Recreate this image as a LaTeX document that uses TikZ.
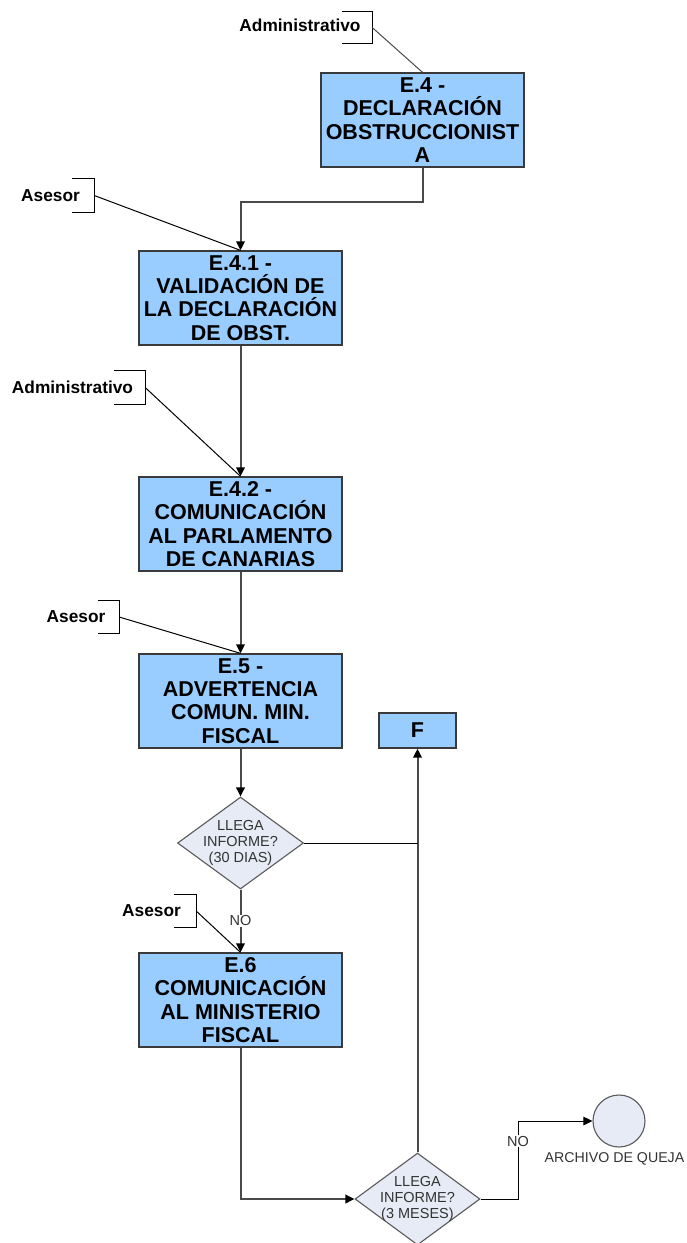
\documentclass[tikz,border=0pt]{standalone}
\usepackage{fontspec}
\setmainfont{Liberation Sans}
\usetikzlibrary{shapes.geometric,arrows.meta}
\definecolor{boxblue}{HTML}{99CCFF}
\definecolor{boxline}{HTML}{3A3A3A}
\definecolor{decfill}{HTML}{E6EBF5}
\definecolor{decline}{HTML}{5A5A5A}
\definecolor{wire}{HTML}{4A4A4A}
\definecolor{softtext}{HTML}{333333}
\begin{document}
\begin{tikzpicture}[x=1pt,y=-1pt,
  task/.style={draw=boxline,fill=boxblue,line width=1.3pt,minimum width=203pt,
    minimum height=94pt,inner sep=0pt,align=center,
    font=\fontsize{21.5}{23.3}\selectfont\bfseries},
  endbox/.style={task,minimum width=77pt,minimum height=35pt},
  decision/.style={draw=decline,fill=decfill,line width=1.1pt,diamond,
    minimum width=126pt,minimum height=92pt,inner sep=0pt},
  dtext/.style={align=center,text=softtext,inner sep=0pt,
    font=\fontsize{14.5}{16.3}\selectfont},
  terminal/.style={draw=decline,fill=decfill,line width=1.1pt,circle,
    minimum size=52pt,inner sep=0pt},
  role/.style={inner sep=0pt,font=\fontsize{17.3}{20}\selectfont\bfseries},
  bracket/.style={inner sep=0pt,minimum height=32pt},
  conn/.style={draw=wire,line width=2pt},
  tip/.style={-{Triangle[length=9pt,width=8.5pt,color=black]}},
  note/.style={draw=black,line width=1pt},
  flag/.style={fill=white,inner sep=1pt,text=softtext,font=\fontsize{14.5}{16}\selectfont}
]
\useasboundingbox (0,0) rectangle (686,1243);
\clip (0,0) rectangle (686,1243);
\fill[white] (0,0) rectangle (686,1243);

% process steps
\node[task] (E4)  at (422.5,120) {E.4 -\\DECLARACIÓN\\OBSTRUCCIONIST\\A};
\node[task] (E41) at (240.5,298) {E.4.1 -\\VALIDACIÓN DE\\LA DECLARACIÓN\\DE OBST.};
\node[task] (E42) at (240.5,524) {E.4.2 -\\COMUNICACIÓN\\AL PARLAMENTO\\DE CANARIAS};
\node[task] (E5)  at (240.5,701) {E.5 -\\ADVERTENCIA\\COMUN. MIN.\\FISCAL};
\node[task] (E6)  at (240.5,1000) {E.6\\COMUNICACIÓN\\AL MINISTERIO\\FISCAL};
\node[endbox] (F) at (417.5,730.5) {F};

% decisions
\node[decision] (D1) at (240.5,843) {};
\node[dtext] (D1t) at (D1.center) {LLEGA\\INFORME?\\(30 DIAS)};
\node[decision,minimum width=125pt] (D2) at (417.5,1199) {};
\node[dtext] (D2t) at (D2.center) {LLEGA\\INFORME?\\(3 MESES)};

% end of file
\node[terminal] (C) at (619,1121) {};
\node[dtext,anchor=north,font=\fontsize{14.2}{16}\selectfont] (Ct) at (614.5,1152) {ARCHIVO DE QUEJA};

% roles with their brackets
\node[role] (r1) at (300,25) {Administrativo};
\node[bracket,minimum width=30pt,minimum height=31pt] (b1) at (357,27.5) {};
\node[role] (r2) at (50.5,196) {Asesor};
\node[bracket,minimum width=22pt,minimum height=33pt] (b2) at (83,195.5) {};
\node[role] (r3) at (72.5,387) {Administrativo};
\node[bracket,minimum width=31pt,minimum height=33pt] (b3) at (129.5,387.5) {};
\node[role] (r4) at (76,617) {Asesor};
\node[bracket,minimum width=21pt,minimum height=32pt] (b4) at (108.5,617) {};
\node[role] (r5) at (151.5,911) {Asesor};
\node[bracket,minimum width=22pt,minimum height=32pt] (b5) at (185,911) {};

\foreach \b in {b1,b2,b3,b4,b5}
  \draw[note] (\b.north west) -- (\b.north east) -- (\b.south east) -- (\b.south west);

% junction points
\coordinate (j1) at (0,202);
\coordinate (j3) at (518,0);

% main flow
\draw[conn,tip] (E4.south) -- (E4.south |- j1) -- (E41.north |- j1) -- (E41.north);
\draw[conn,tip] (E41.south) -- (E42.north);
\draw[conn,tip] (E42.south) -- (E5.north);
\draw[conn,tip] (E5.south) -- (D1.north);
\draw[conn,tip] (D1.south) -- node[flag] (no1) {NO} (E6.north);
\draw[conn,tip] (E6.south) |- (D2.west);
\draw[conn,tip] (D2.north) -- (F.south);
\draw[note] (D1.east) -- (D1.east -| F.south);
\draw[note,tip] (D2.east) -- (D2.east -| j3) |- (C.west);
\node[flag] (no2) at (518,1141) {NO};

% role links
\draw[note,draw=wire] (b1.east) -- (E4.north);
\draw[note] (b2.east) -- (E41.north);
\draw[note] (b3.east) -- (E42.north);
\draw[note] (b4.east) -- (E5.north);
\draw[note] (b5.east) -- (E6.north);
\end{tikzpicture}
\end{document}
